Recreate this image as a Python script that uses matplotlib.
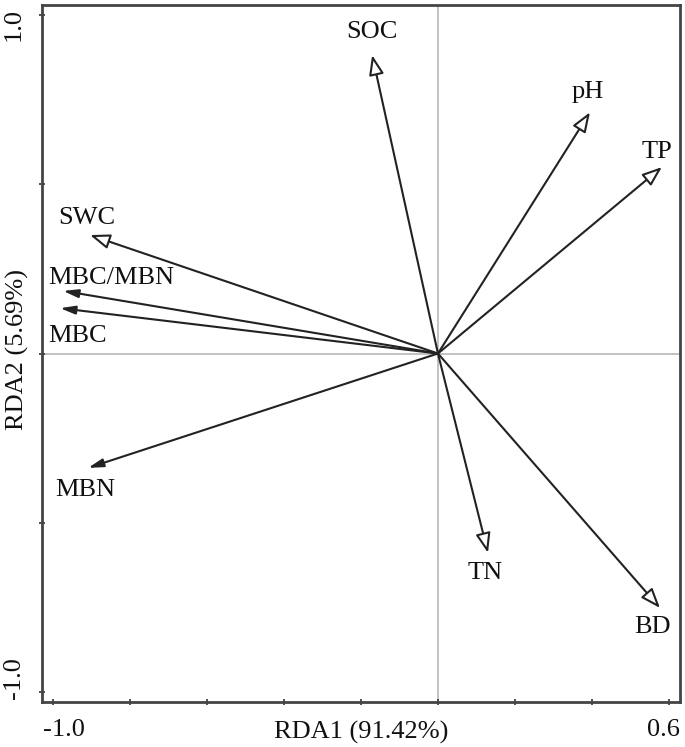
import matplotlib
matplotlib.use("Agg")
import matplotlib.pyplot as plt
from matplotlib.patches import FancyArrowPatch
from matplotlib.transforms import ScaledTranslation

variables = ["SOC", "pH", "TP", "SWC", "MBC/MBN", "MBC", "MBN", "TN", "BD"]
rda1 = [-0.171, 0.395, 0.582, -0.904, -0.974, -0.982, -0.909, 0.130, 0.577]
rda2 = [0.882, 0.713, 0.551, 0.350, 0.185, 0.134, -0.338, -0.589, -0.752]
open_head = [True, True, True, True, False, False, False, True, True]
label_offsets = [(0, 23), (-2, 20), (-5, 15), (-3, 17), (48, 13), (17, -28), (-3, -22), (-3, -20), (-8, -19)]

xticks = [-1.0, -0.8, -0.6, -0.4, -0.2, 0.0, 0.2, 0.4, 0.6]
xticklabels = ["-1.0", "", "", "", "", "", "", "", "0.6"]
yticks = [-1.0, -0.5, 0.0, 0.5, 1.0]
yticklabels = ["-1.0", "", "", "", "1.0"]

xlabel = "RDA1 (91.42%)"
ylabel = "RDA2 (5.69%)"

plt.rcParams["font.family"] = ["Liberation Serif", "DejaVu Serif"]
FS = 19

fig = plt.figure(figsize=(6.85, 7.47), dpi=100)
ax = fig.add_axes([0.0613, 0.0602, 0.9314, 0.9331])
ax.set_xlim(-1.029, 0.629)
ax.set_ylim(-1.03, 1.03)

ax.axhline(0, color="#b8b8b8", lw=1.2, zorder=1)
ax.axvline(0, color="#b8b8b8", lw=1.2, zorder=1)

for name, x, y, op, off in zip(variables, rda1, rda2, open_head, label_offsets):
    if op:
        style = "-|>,head_length=1.2,head_width=0.45"
        fc = "white"
    else:
        style = "-|>,head_length=0.9,head_width=0.25"
        fc = "#222222"
    arr = FancyArrowPatch((0, 0), (x, y), arrowstyle=style, mutation_scale=10,
                          shrinkA=0, shrinkB=0, lw=1.5, ec="#222222", fc=fc, zorder=3)
    ax.add_patch(arr)
    ax.annotate(name, xy=(x, y), xytext=off, textcoords="offset pixels",
                ha="center", va="center", fontsize=FS, color="#111111")

ax.set_xticks(xticks)
ax.set_xticklabels(xticklabels)
ax.set_yticks(yticks)
ax.set_yticklabels(yticklabels, rotation=90, va="center")
ax.tick_params(direction="inout", length=5, width=1.2, labelsize=FS, colors="#333333",
               labelcolor="#111111", pad=10)

# small offsets of the end tick labels as in the reference
xl = ax.get_xticklabels()
xl[0].set_transform(xl[0].get_transform() + ScaledTranslation(0.11, 0, fig.dpi_scale_trans))
xl[-1].set_transform(xl[-1].get_transform() + ScaledTranslation(-0.05, 0, fig.dpi_scale_trans))
yl = ax.get_yticklabels()
yl[0].set_transform(yl[0].get_transform() + ScaledTranslation(0, 0.14, fig.dpi_scale_trans))
yl[-1].set_transform(yl[-1].get_transform() + ScaledTranslation(0, -0.09, fig.dpi_scale_trans))

for s in ax.spines.values():
    s.set_linewidth(2)
    s.set_color("#444444")

ax.set_xlabel(xlabel, fontsize=FS, color="#111111", va="center")
ax.xaxis.set_label_coords(0.5, -0.043)
ax.set_ylabel(ylabel, fontsize=FS, color="#111111", va="center")
ax.yaxis.set_label_coords(-0.039, 0.506)

fig.savefig("out.png", dpi=100)
